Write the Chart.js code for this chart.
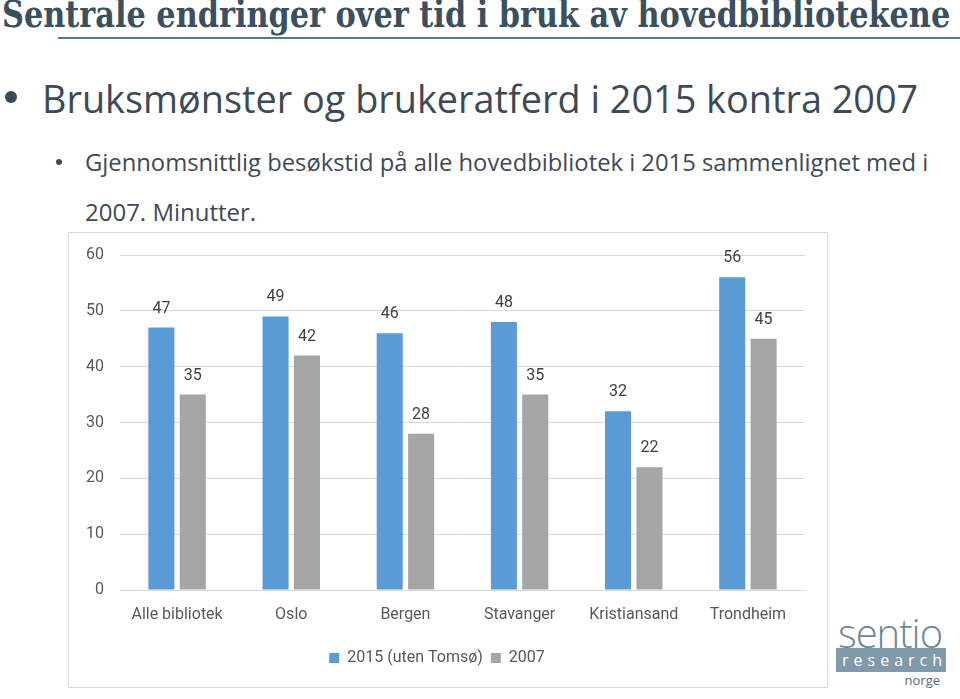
<!DOCTYPE html>
<html>
<head>
<meta charset="utf-8">
<script src="https://cdn.jsdelivr.net/npm/chart.js@4"></script>
<style>
  body { margin: 0; width: 960px; height: 699px; background: #fff; position: relative; overflow: hidden; }
  .fit { position: absolute; white-space: nowrap; transform-origin: left top; }
  .title { left: 2px; top: -9px; font-family: "DejaVu Serif Condensed", "DejaVu Serif", serif; font-weight: bold; font-size: 38px; color: #3c4f5e; }
  .rule { position: absolute; left: 58px; top: 37px; width: 902px; height: 2px; background: #4f7d8e; }
  .b1 { left: 42px; top: 72px; font-family: "Open Sans", sans-serif; font-size: 38px; color: #3d4a56; }
  .dot1 { position: absolute; left: 5px; top: 91px; width: 12px; height: 12px; border-radius: 50%; background: #3d4a56; }
  .b2 { left: 85px; font-family: "Open Sans", sans-serif; font-size: 23px; color: #3d4a56; }
  .dot2 { position: absolute; left: 56px; top: 159px; width: 6px; height: 6px; border-radius: 50%; background: #3d4a56; }
  .box { position: absolute; left: 68px; top: 232px; width: 758px; height: 454px; border: 1px solid #d9d9d9; }
  .logo { position: absolute; left: 836px; top: 618px; width: 110px; font-family: "Open Sans", sans-serif; }
  .logo .s { font-size: 40px; font-weight: 300; color: #6c8797; line-height: 30px; letter-spacing: -1px; padding-left: 2px; }
  .logo .r { background: #7f9aab; color: #fff; font-size: 16px; letter-spacing: 5px; line-height: 24px; padding-left: 6px; margin-top: 0px; }
  .logo .n { font-size: 13px; color: #5a6b75; text-align: right; padding-right: 6px; line-height: 16px; }
</style>
</head>
<body>
<div class="fit title" data-w="948">Sentrale endringer over tid i bruk av hovedbibliotekene</div>
<div class="rule"></div>
<div class="dot1"></div>
<div class="fit b1" data-w="876">Bruksmønster og brukeratferd i 2015 kontra 2007</div>
<div class="dot2"></div>
<div class="fit b2" style="top:146px" data-w="843">Gjennomsnittlig besøkstid på alle hovedbibliotek i 2015 sammenlignet med i</div>
<div class="fit b2" style="top:196px" data-w="171">2007. Minutter.</div>
<div class="box"><canvas id="chart" width="758" height="454"></canvas></div>
<div class="logo">
  <div class="s">sentio</div>
  <div class="r">research</div>
  <div class="n">norge</div>
</div>
<script>
const categories = ["Alle bibliotek", "Oslo", "Bergen", "Stavanger", "Kristiansand", "Trondheim"];
const series2015 = [47, 49, 46, 48, 32, 56];
const series2007 = [35, 42, 28, 35, 22, 45];
const seriesNames = ["2015 (uten Tomsø)", "2007"];
const yTicks = [0, 10, 20, 30, 40, 50, 60];

const chartFont = "Roboto, 'Open Sans', sans-serif";

// squeeze the slide texts to the widths they take in the original
document.querySelectorAll(".fit").forEach(el => {
    el.style.transform = "scaleX(" + (el.dataset.w / el.scrollWidth) + ")";
});

const valueLabels = {
    id: "valueLabels",
    afterDatasetsDraw(chart) {
        const ctx = chart.ctx;
        ctx.save();
        ctx.font = "16px " + chartFont;
        ctx.fillStyle = "#404040";
        ctx.textAlign = "center";
        ctx.textBaseline = "bottom";
        chart.data.datasets.forEach((ds, i) => {
            chart.getDatasetMeta(i).data.forEach((bar, j) => {
                ctx.fillText(ds.data[j], bar.x, bar.y - 11);
            });
        });
        ctx.restore();
    }
};

new Chart(document.getElementById("chart"), {
    type: "bar",
    data: {
        labels: categories,
        datasets: [{
            label: seriesNames[0],
            data: series2015,
            backgroundColor: "#5b9bd5",
            categoryPercentage: 0.55,
            barPercentage: 0.83
        }, {
            label: seriesNames[1],
            data: series2007,
            backgroundColor: "#a5a5a5",
            categoryPercentage: 0.55,
            barPercentage: 0.83
        }]
    },
    options: {
        responsive: false,
        animation: false,
        layout: { padding: { top: 22, right: 22, bottom: 11, left: 0 } },
        plugins: {
            legend: {
                position: "bottom",
                labels: {
                    boxWidth: 10, boxHeight: 10, padding: 8,
                    color: "#595959",
                    font: { family: chartFont, size: 16 }
                }
            },
            tooltip: { enabled: false }
        },
        scales: {
            y: {
                min: 0, max: 60,
                afterFit(axis) { axis.width = 51; axis.paddingTop = 0; axis.paddingBottom = 0; },
                afterBuildTicks(axis) { axis.ticks = yTicks.map(v => ({ value: v })); },
                ticks: { color: "#595959", padding: 16, font: { family: chartFont, size: 16 } },
                grid: { color: "#d9d9d9", drawTicks: false },
                border: { display: false }
            },
            x: {
                afterFit(axis) { axis.height = 52; axis.paddingLeft = 0; axis.paddingRight = 0; },
                ticks: { color: "#595959", padding: 15, maxRotation: 0, font: { family: chartFont, size: 16 } },
                grid: { display: false, drawTicks: false },
                border: { color: "#d9d9d9" }
            }
        }
    },
    plugins: [valueLabels]
});
</script>
</body>
</html>
